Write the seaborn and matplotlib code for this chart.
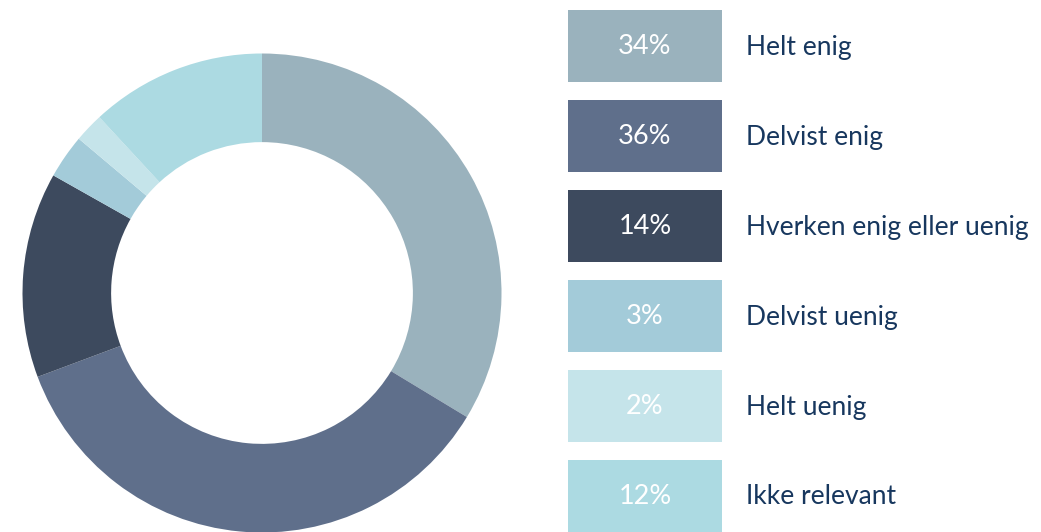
import matplotlib
matplotlib.use("Agg")
import matplotlib.pyplot as plt
from matplotlib.patches import Rectangle
import seaborn as sns

# Survey answer shares
categories = ["Helt enig", "Delvist enig", "Hverken enig eller uenig",
              "Delvist uenig", "Helt uenig", "Ikke relevant"]
shares = [34, 36, 14, 3, 2, 12]
colors = ["#9ab2bd", "#5f6f8b", "#3d4a5e", "#a3cbd9", "#c5e4ea", "#acdae2"]

sns.set_theme(style="white")
plt.rcParams['font.family'] = ['Lato', 'DejaVu Sans']

W, H = 1041, 532
fig = plt.figure(figsize=(W / 100, H / 100), dpi=100)
fig.patch.set_facecolor('white')

# --- donut ---
r_px = 239.5
cx, cy = 262, 293
ax_pie = fig.add_axes([(cx - r_px) / W, (H - cy - r_px) / H, 2 * r_px / W, 2 * r_px / H])
ax_pie.pie(shares, colors=sns.color_palette(colors), startangle=90, counterclock=False,
           radius=1, wedgeprops=dict(width=0.37, linewidth=0))
ax_pie.set_xlim(-1, 1)
ax_pie.set_ylim(-1, 1)
ax_pie.set_aspect('equal')
ax_pie.axis('off')

# --- legend boxes (pixel coordinates, y down) ---
ax_leg = fig.add_axes([0, 0, 1, 1])
ax_leg.set_xlim(0, W)
ax_leg.set_ylim(H, 0)
ax_leg.axis('off')

box_x, box_w, box_h = 568, 154, 72
top0, step = 10, 90
for i, (cat, val, col) in enumerate(zip(categories, shares, colors)):
    y0 = top0 + i * step
    ax_leg.add_patch(Rectangle((box_x, y0), box_w, box_h, facecolor=col, edgecolor='none'))
    ax_leg.text(box_x + box_w / 2, y0 + box_h / 2 + 1, f"{val}%", color='white',
                fontsize=19.5, ha='center', va='center')
    ax_leg.text(746, y0 + box_h / 2 + 1, cat, color='#17375e', fontsize=19,
                ha='left', va='center')

fig.savefig('out.png', dpi=100, facecolor=fig.get_facecolor())
